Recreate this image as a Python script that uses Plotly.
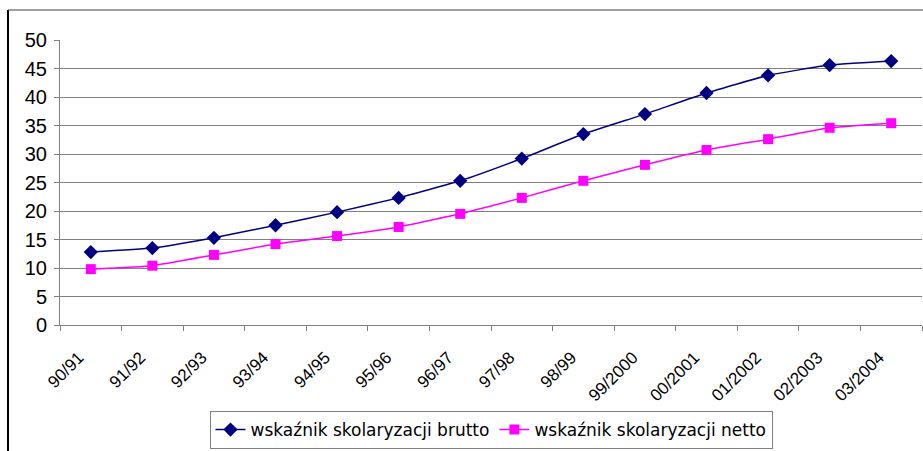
import plotly.graph_objects as go

categories = ["90/91", "91/92", "92/93", "93/94", "94/95", "95/96", "96/97",
              "97/98", "98/99", "99/2000", "00/2001", "01/2002", "02/2003", "03/2004"]
brutto = [12.8, 13.5, 15.3, 17.5, 19.8, 22.3, 25.3, 29.2, 33.5, 37.0, 40.7, 43.8, 45.6, 46.3]
netto = [9.8, 10.4, 12.3, 14.2, 15.6, 17.2, 19.5, 22.3, 25.3, 28.1, 30.7, 32.6, 34.6, 35.4]
yticks = [0, 5, 10, 15, 20, 25, 30, 35, 40, 45, 50]

W, H = 923, 451
L, R, T, B = 60, 1, 40, 126
pw, ph = W - L - R, H - T - B


def px(x):
    return (x - L) / pw


def py(y):
    return (H - B - y) / ph


font = "Liberation Sans, Arial, sans-serif"
legfont = "DejaVu Sans, Liberation Sans, sans-serif"

fig = go.Figure()
fig.add_trace(go.Scatter(
    x=categories, y=brutto, mode="lines+markers",
    name="wskaźnik skolaryzacji brutto",
    line=dict(color="#000080", width=1.5, shape="spline", smoothing=0.4),
    marker=dict(symbol="diamond", size=11, color="#000080"),
))
fig.add_trace(go.Scatter(
    x=categories, y=netto, mode="lines+markers",
    name="wskaźnik skolaryzacji netto",
    line=dict(color="#FF00FF", width=1.5, shape="spline", smoothing=0.4),
    marker=dict(symbol="square", size=10, color="#FF00FF"),
))

fig.update_layout(
    width=W, height=H, autosize=False,
    margin=dict(l=L, r=R, t=T, b=B, autoexpand=False),
    paper_bgcolor="white", plot_bgcolor="white",
    font=dict(family=font, size=17, color="black"),
    showlegend=True,
    legend=dict(
        orientation="h", x=0.5, xanchor="center", y=py(449), yanchor="bottom",
        bordercolor="#808080", borderwidth=1, bgcolor="white",
        font=dict(family=legfont, size=17, color="black"),
        tracegroupgap=0,
    ),
    xaxis=dict(
        type="category", range=[-0.5, 13.5], automargin=False,
        tickson="boundaries", ticks="outside", ticklen=5, tickcolor="#808080",
        showline=True, linecolor="#808080", linewidth=1,
        showgrid=False, tickangle=-45, ticklabelstandoff=15, ticklabelshift=-12,
        tickfont=dict(family=font, size=17, color="black"),
    ),
    yaxis=dict(
        range=[0, 50], tickvals=yticks, ticks="outside", ticklen=5, automargin=False,
        tickcolor="#808080", showline=True, linecolor="#808080", linewidth=1,
        showgrid=True, gridcolor="#808080", gridwidth=1, zeroline=False,
        ticklabelstandoff=3,
        tickfont=dict(family=font, size=20, color="black"),
    ),
    shapes=[
        dict(type="line", xref="paper", yref="paper",
             x0=px(8), x1=px(8), y0=py(10), y1=py(452),
             line=dict(color="black", width=2)),
        dict(type="line", xref="paper", yref="paper",
             x0=px(8), x1=px(924), y0=py(10), y1=py(10),
             line=dict(color="#404040", width=1)),
    ],
)

fig.write_html(
    "out.html",
    config={"displayModeBar": False},
    post_script="document.body.style.margin='0';document.body.style.overflow='hidden';",
)
